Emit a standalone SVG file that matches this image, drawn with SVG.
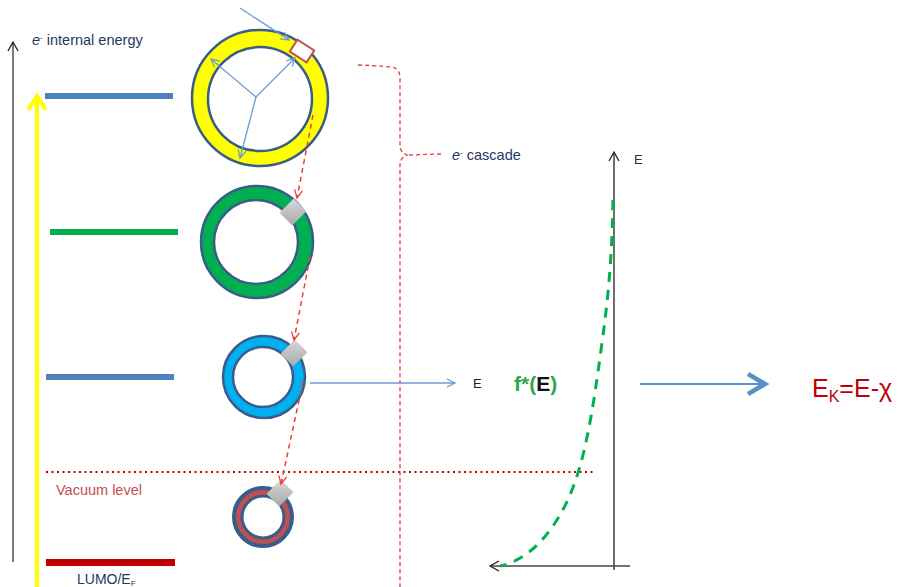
<svg xmlns="http://www.w3.org/2000/svg" width="899" height="587" viewBox="0 0 899 587">
<defs>
<style>
.ring{stroke:#385D8A;stroke-width:2.5}
.blue{stroke:#6C9BD2;stroke-width:1.3;fill:none}
.casc{stroke:#F03C3C;stroke-width:1.5;stroke-dasharray:5 4;fill:none}
.t{font-family:"Liberation Sans",Arial,sans-serif}
</style>
<linearGradient id="gr" x1="0" y1="0" x2="1" y2="1">
<stop offset="0" stop-color="#D8D8D8"/><stop offset="1" stop-color="#A8A8A8"/>
</linearGradient>
<marker id="ab" markerWidth="12" markerHeight="12" refX="9" refY="5" orient="auto" markerUnits="userSpaceOnUse"><path d="M1,1 L9,5 L1,9" fill="none" stroke="#6C9BD2" stroke-width="1.3"/></marker>
<marker id="ar" markerWidth="12" markerHeight="12" refX="9" refY="5" orient="auto" markerUnits="userSpaceOnUse"><path d="M1,1 L9,5 L1,9" fill="none" stroke="#F03C3C" stroke-width="1.3"/></marker>
<marker id="ak" markerWidth="14" markerHeight="14" refX="10" refY="6" orient="auto" markerUnits="userSpaceOnUse"><path d="M1,1 L10,6 L1,11" fill="none" stroke="#222" stroke-width="1.3"/></marker>
</defs>
<rect width="899" height="587" fill="#fff"/>

<g id="left-axis">
<line x1="13" y1="562" x2="13" y2="42" stroke="#333" stroke-width="1.3" marker-end="url(#ak)"/>
<text class="t" x="32" y="45" font-size="14.5" fill="#1F3864"><tspan font-style="italic">e</tspan><tspan font-size="8" dy="-5">-</tspan><tspan dy="5"> internal energy</tspan></text>
</g>
<g id="yellow-arrow">
<line x1="37" y1="587" x2="37" y2="100" stroke="#FFFF00" stroke-width="4"/>
<path d="M28,110 L37,96 L46,110" fill="none" stroke="#FFFF00" stroke-width="4"/>
</g>

<g id="levels">
<rect x="45" y="93" width="128" height="6" fill="#4F81BD"/>
<rect x="50" y="229" width="128" height="6" fill="#00B050"/>
<rect x="46" y="374" width="128" height="6" fill="#4F81BD"/>
<rect x="46" y="559" width="129" height="7" fill="#C00000"/>
<text class="t" x="77" y="584" font-size="14" fill="#1F3864">LUMO/E<tspan font-size="8" dy="2">F</tspan></text>
</g>

<g id="vacuum">
<line x1="46" y1="472" x2="593" y2="472" stroke="#C00000" stroke-width="2" stroke-dasharray="2 3.5"/>
<text class="t" x="56" y="495" font-size="14.5" fill="#C0504D">Vacuum level</text>
</g>

<g id="ring-yellow">
<circle cx="260" cy="98" r="68" fill="#FFFF00" class="ring"/>
<circle cx="260" cy="99" r="52" fill="#fff" class="ring"/>
<line x1="240" y1="8" x2="289" y2="40" class="blue" marker-end="url(#ab)"/>
<line x1="256" y1="97" x2="211" y2="59" class="blue" marker-end="url(#ab)"/>
<line x1="256" y1="97" x2="295" y2="58" class="blue" marker-end="url(#ab)"/>
<line x1="256" y1="97" x2="240" y2="158" class="blue" marker-end="url(#ab)"/>
<rect x="-10" y="-7" width="20" height="14" transform="translate(302 51) rotate(33)" fill="#fff" stroke="#C0504D" stroke-width="2"/>
</g>

<g id="ring-green">
<circle cx="257" cy="242" r="56" fill="#00B050" class="ring"/>
<circle cx="256" cy="242" r="42" fill="#fff" class="ring"/>
<rect x="-9" y="-10" width="18" height="20" transform="translate(293 212) rotate(45)" fill="url(#gr)"/>
</g>

<g id="ring-cyan">
<circle cx="264" cy="377" r="41" fill="#00B0F0" class="ring"/>
<circle cx="263" cy="377" r="30" fill="#fff" class="ring"/>
<rect x="-9" y="-10" width="18" height="20" transform="translate(294 353) rotate(45)" fill="url(#gr)"/>
</g>

<g id="ring-red">
<circle cx="263" cy="517" r="29" fill="#C0504D" stroke="#385D8A" stroke-width="4"/>
<circle cx="263" cy="517" r="21" fill="#fff" stroke="#385D8A" stroke-width="3"/>
<rect x="-9" y="-10" width="18" height="20" transform="translate(280 493) rotate(45)" fill="url(#gr)"/>
</g>

<g id="connectors">
<line x1="313" y1="115" x2="297" y2="198" class="casc" marker-end="url(#ar)"/>
<line x1="310" y1="257" x2="294" y2="340" class="casc" marker-end="url(#ar)"/>
<line x1="303" y1="382" x2="281" y2="484" class="casc" marker-end="url(#ar)"/>
<path d="M358,65 Q390,66 395,68 Q400,71 400,78 L400,146 Q400,152 407,155 Q400,158 400,165 L400,587" stroke="#E03C3C" stroke-width="1.3" stroke-dasharray="4 3" fill="none"/>
<line x1="409" y1="155" x2="441" y2="154" stroke="#E03C3C" stroke-width="1.3" stroke-dasharray="4 3"/>
<line x1="310" y1="383" x2="455" y2="383" class="blue" marker-end="url(#ab)"/>
<line x1="640" y1="384" x2="762" y2="384" stroke="#5B8FCC" stroke-width="2"/>
<path d="M748,374 L765,384 L748,394" fill="none" stroke="#5B8FCC" stroke-width="4.5"/>
</g>

<g id="cascade-label">
<text class="t" x="452" y="160" font-size="14.5" fill="#1F3864"><tspan font-style="italic">e</tspan><tspan font-size="8" dy="-5">-</tspan><tspan dy="5"> cascade</tspan></text>
</g>

<g id="plot">
<line x1="614" y1="570" x2="614" y2="152" stroke="#222" stroke-width="1.3" marker-end="url(#ak)"/>
<line x1="630" y1="566" x2="490" y2="566" stroke="#444" stroke-width="1.5" marker-end="url(#ak)"/>
<text class="t" x="634" y="164" font-size="13" fill="#3F1F4F">E</text>
<path d="M613,200 C612,260 608,300 601,350 C593,410 585,460 570,495 C555,530 530,560 500,566" fill="none" stroke="#00B050" stroke-width="3" stroke-dasharray="10 8"/>
</g>

<g id="labels">
<text class="t" x="473" y="388" font-size="13" fill="#222">E</text>
<text class="t" x="514" y="391" font-size="21" font-weight="bold" fill="#2CA84A">f*(<tspan fill="#111">E</tspan>)</text>
<text class="t" x="812" y="397" font-size="25" fill="#C00000">E<tspan font-size="16" dy="5">K</tspan><tspan dy="-5">=E-χ</tspan></text>
</g>
</svg>
